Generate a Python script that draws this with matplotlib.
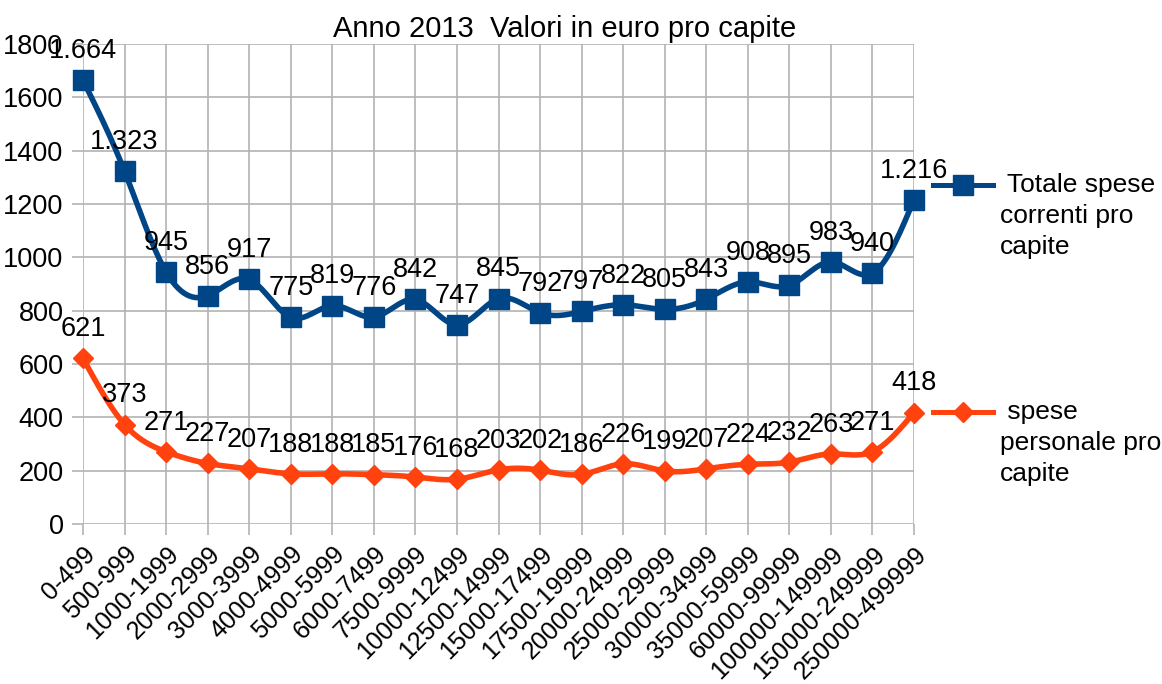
import matplotlib
matplotlib.use("Agg")
import matplotlib.pyplot as plt
from matplotlib.lines import Line2D
import numpy as np

plt.rcParams['font.family'] = ['Liberation Sans', 'DejaVu Sans']

categories = ['0-499', '500-999', '1000-1999', '2000-2999', '3000-3999', '4000-4999',
              '5000-5999', '6000-7499', '7500-9999', '10000-12499', '12500-14999',
              '15000-17499', '17500-19999', '20000-24999', '25000-29999', '30000-34999',
              '35000-59999', '60000-99999', '100000-149999', '150000-249999', '250000-499999']
totale = [1664, 1323, 945, 856, 917, 775, 819, 776, 842, 747, 845,
          792, 797, 822, 805, 843, 908, 895, 983, 940, 1216]
personale = [621, 373, 271, 227, 207, 188, 188, 185, 176, 168, 203,
             202, 186, 226, 199, 207, 224, 232, 263, 271, 418]

blue = '#004586'
orange = '#ff420e'
grid_c = '#b3b3b3'


def natural_spline(x, y, n=30):
    # natural cubic spline, like the smoothed lines of the office chart
    x = np.asarray(x, float)
    y = np.asarray(y, float)
    k = len(x)
    h = np.diff(x)
    A = np.zeros((k, k))
    b = np.zeros(k)
    A[0, 0] = A[-1, -1] = 1
    for i in range(1, k - 1):
        A[i, i - 1] = h[i - 1]
        A[i, i] = 2 * (h[i - 1] + h[i])
        A[i, i + 1] = h[i]
        b[i] = 6 * ((y[i + 1] - y[i]) / h[i] - (y[i] - y[i - 1]) / h[i - 1])
    M = np.linalg.solve(A, b)
    xs, ys = [], []
    for i in range(k - 1):
        t = np.linspace(x[i], x[i + 1], n, endpoint=(i == k - 2))
        a = (x[i + 1] - t) / h[i]
        c = (t - x[i]) / h[i]
        s = (a * y[i] + c * y[i + 1]
             + ((a ** 3 - a) * M[i] + (c ** 3 - c) * M[i + 1]) * h[i] ** 2 / 6)
        xs.append(t)
        ys.append(s)
    return np.concatenate(xs), np.concatenate(ys)


def fmt(v):
    return f'{v:,}'.replace(',', '.')


fig = plt.figure(figsize=(11.62, 6.84), dpi=100)
W, H = 1162, 684
ax = fig.add_axes([83 / W, 1 - 524 / H, (914 - 83) / W, (524 - 44) / H])

x = np.arange(len(categories))
for vals, col, mk, ms in [(totale, blue, 's', 14.5), (personale, orange, 'D', 10.5)]:
    sx, sy = natural_spline(x, vals)
    ax.plot(sx, sy, color=col, lw=4, zorder=3, solid_capstyle='round', clip_on=False)
    ax.plot(x, vals, ls='none', marker=mk, ms=ms, color=col, zorder=4, clip_on=False)
    for xi, v in zip(x, vals):
        ax.annotate(fmt(v), (xi, v), xytext=(0, 16), textcoords='offset points',
                    ha='center', va='baseline', fontsize=19.5, zorder=5)

ax.set_xlim(0, len(categories) - 1)
ax.set_ylim(0, 1800)
ax.set_yticks(range(0, 1801, 200))
ax.set_xticks(x)
ax.set_xticklabels(categories, rotation=45, ha='right', va='top', rotation_mode='anchor')
ax.grid(True, color=grid_c, lw=1.2)
ax.set_axisbelow(True)
for s in ax.spines.values():
    s.set_visible(False)
ax.tick_params(axis='both', length=8, width=1.2, color=grid_c)
ax.tick_params(axis='y', pad=6, labelsize=19.5)
ax.tick_params(axis='x', pad=5, labelsize=18)

fig.text(565 / W, 1 - 37 / H, 'Anno 2013  Valori in euro pro capite',
         ha='center', va='baseline', fontsize=21)

# legend on the right
for yl, col, mk, ms, txt in [(185, blue, 's', 14.5, ' Totale spese\ncorrenti pro\ncapite'),
                             (412, orange, 'D', 10.5, ' spese\npersonale pro\ncapite')]:
    fig.add_artist(Line2D([933 / W, 993 / W], [1 - yl / H, 1 - yl / H], color=col, lw=3.6,
                          transform=fig.transFigure))
    fig.add_artist(Line2D([963 / W], [1 - yl / H], marker=mk, ms=ms, color=col,
                          transform=fig.transFigure))
    fig.text(1000 / W, 1 - (yl - 12) / H, txt, ha='left', va='top', fontsize=19,
             linespacing=1.38)

fig.savefig('out.png', dpi=100)
